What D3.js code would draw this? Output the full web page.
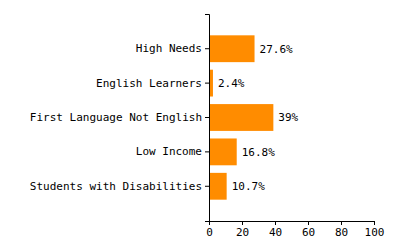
<!DOCTYPE html>
<html>
<head>
<meta charset="utf-8">
<script src="https://cdn.jsdelivr.net/npm/d3@7"></script>
<style>
body { margin: 0; background: #fff; }
text { font-family: "DejaVu Sans Mono", monospace; }
</style>
</head>
<body>
<svg width="400" height="250"></svg>
<script>
let categories = ["High Needs", "English Learners", "First Language Not English", "Low Income", "Students with Disabilities"];
let values = [27.6, 2.4, 39, 16.8, 10.7];
let valueLabels = ["27.6%", "2.4%", "39%", "16.8%", "10.7%"];
let xTicks = [0, 20, 40, 60, 80, 100];

let margin = {top: 14, right: 26, bottom: 29, left: 209};
let svg = d3.select("svg");
let plotWidth = 400 - margin.left - margin.right;
let plotHeight = 250 - margin.top - margin.bottom;

let g = svg.append("g")
  .attr("transform", "translate(" + margin.left + "," + margin.top + ")");

let x = d3.scaleLinear().domain([0, 100]).range([0, plotWidth]);
let y = d3.scaleBand().domain(categories).range([0, plotHeight])
  .paddingInner(0.22).paddingOuter(0.62);

g.selectAll("rect.bar")
  .data(values)
  .enter()
  .append("rect")
  .attr("class", "bar")
  .attr("x", 0)
  .attr("y", (d, i) => y(categories[i]))
  .attr("width", d => x(d))
  .attr("height", y.bandwidth())
  .attr("fill", "#ff8c00");

g.selectAll("text.val")
  .data(values)
  .enter()
  .append("text")
  .attr("class", "val")
  .attr("x", d => x(d) + 5)
  .attr("y", (d, i) => y(categories[i]) + y.bandwidth() / 2)
  .attr("dy", "0.35em")
  .style("font-size", "11px")
  .style("fill", "#000")
  .text((d, i) => valueLabels[i]);

let yAxis = g.append("g")
  .call(d3.axisLeft(y).tickSize(4).tickSizeOuter(4).tickPadding(3));
yAxis.selectAll("text").style("font-size", "11px").style("fill", "#000")
  .style("font-family", "'DejaVu Sans Mono', monospace");

let xAxis = g.append("g")
  .attr("transform", "translate(0," + plotHeight + ")")
  .call(d3.axisBottom(x).tickValues(xTicks).tickSize(4).tickSizeOuter(4).tickPadding(3));
xAxis.selectAll("text").style("font-size", "11px").style("fill", "#000")
  .style("font-family", "'DejaVu Sans Mono', monospace");
</script>
</body>
</html>
